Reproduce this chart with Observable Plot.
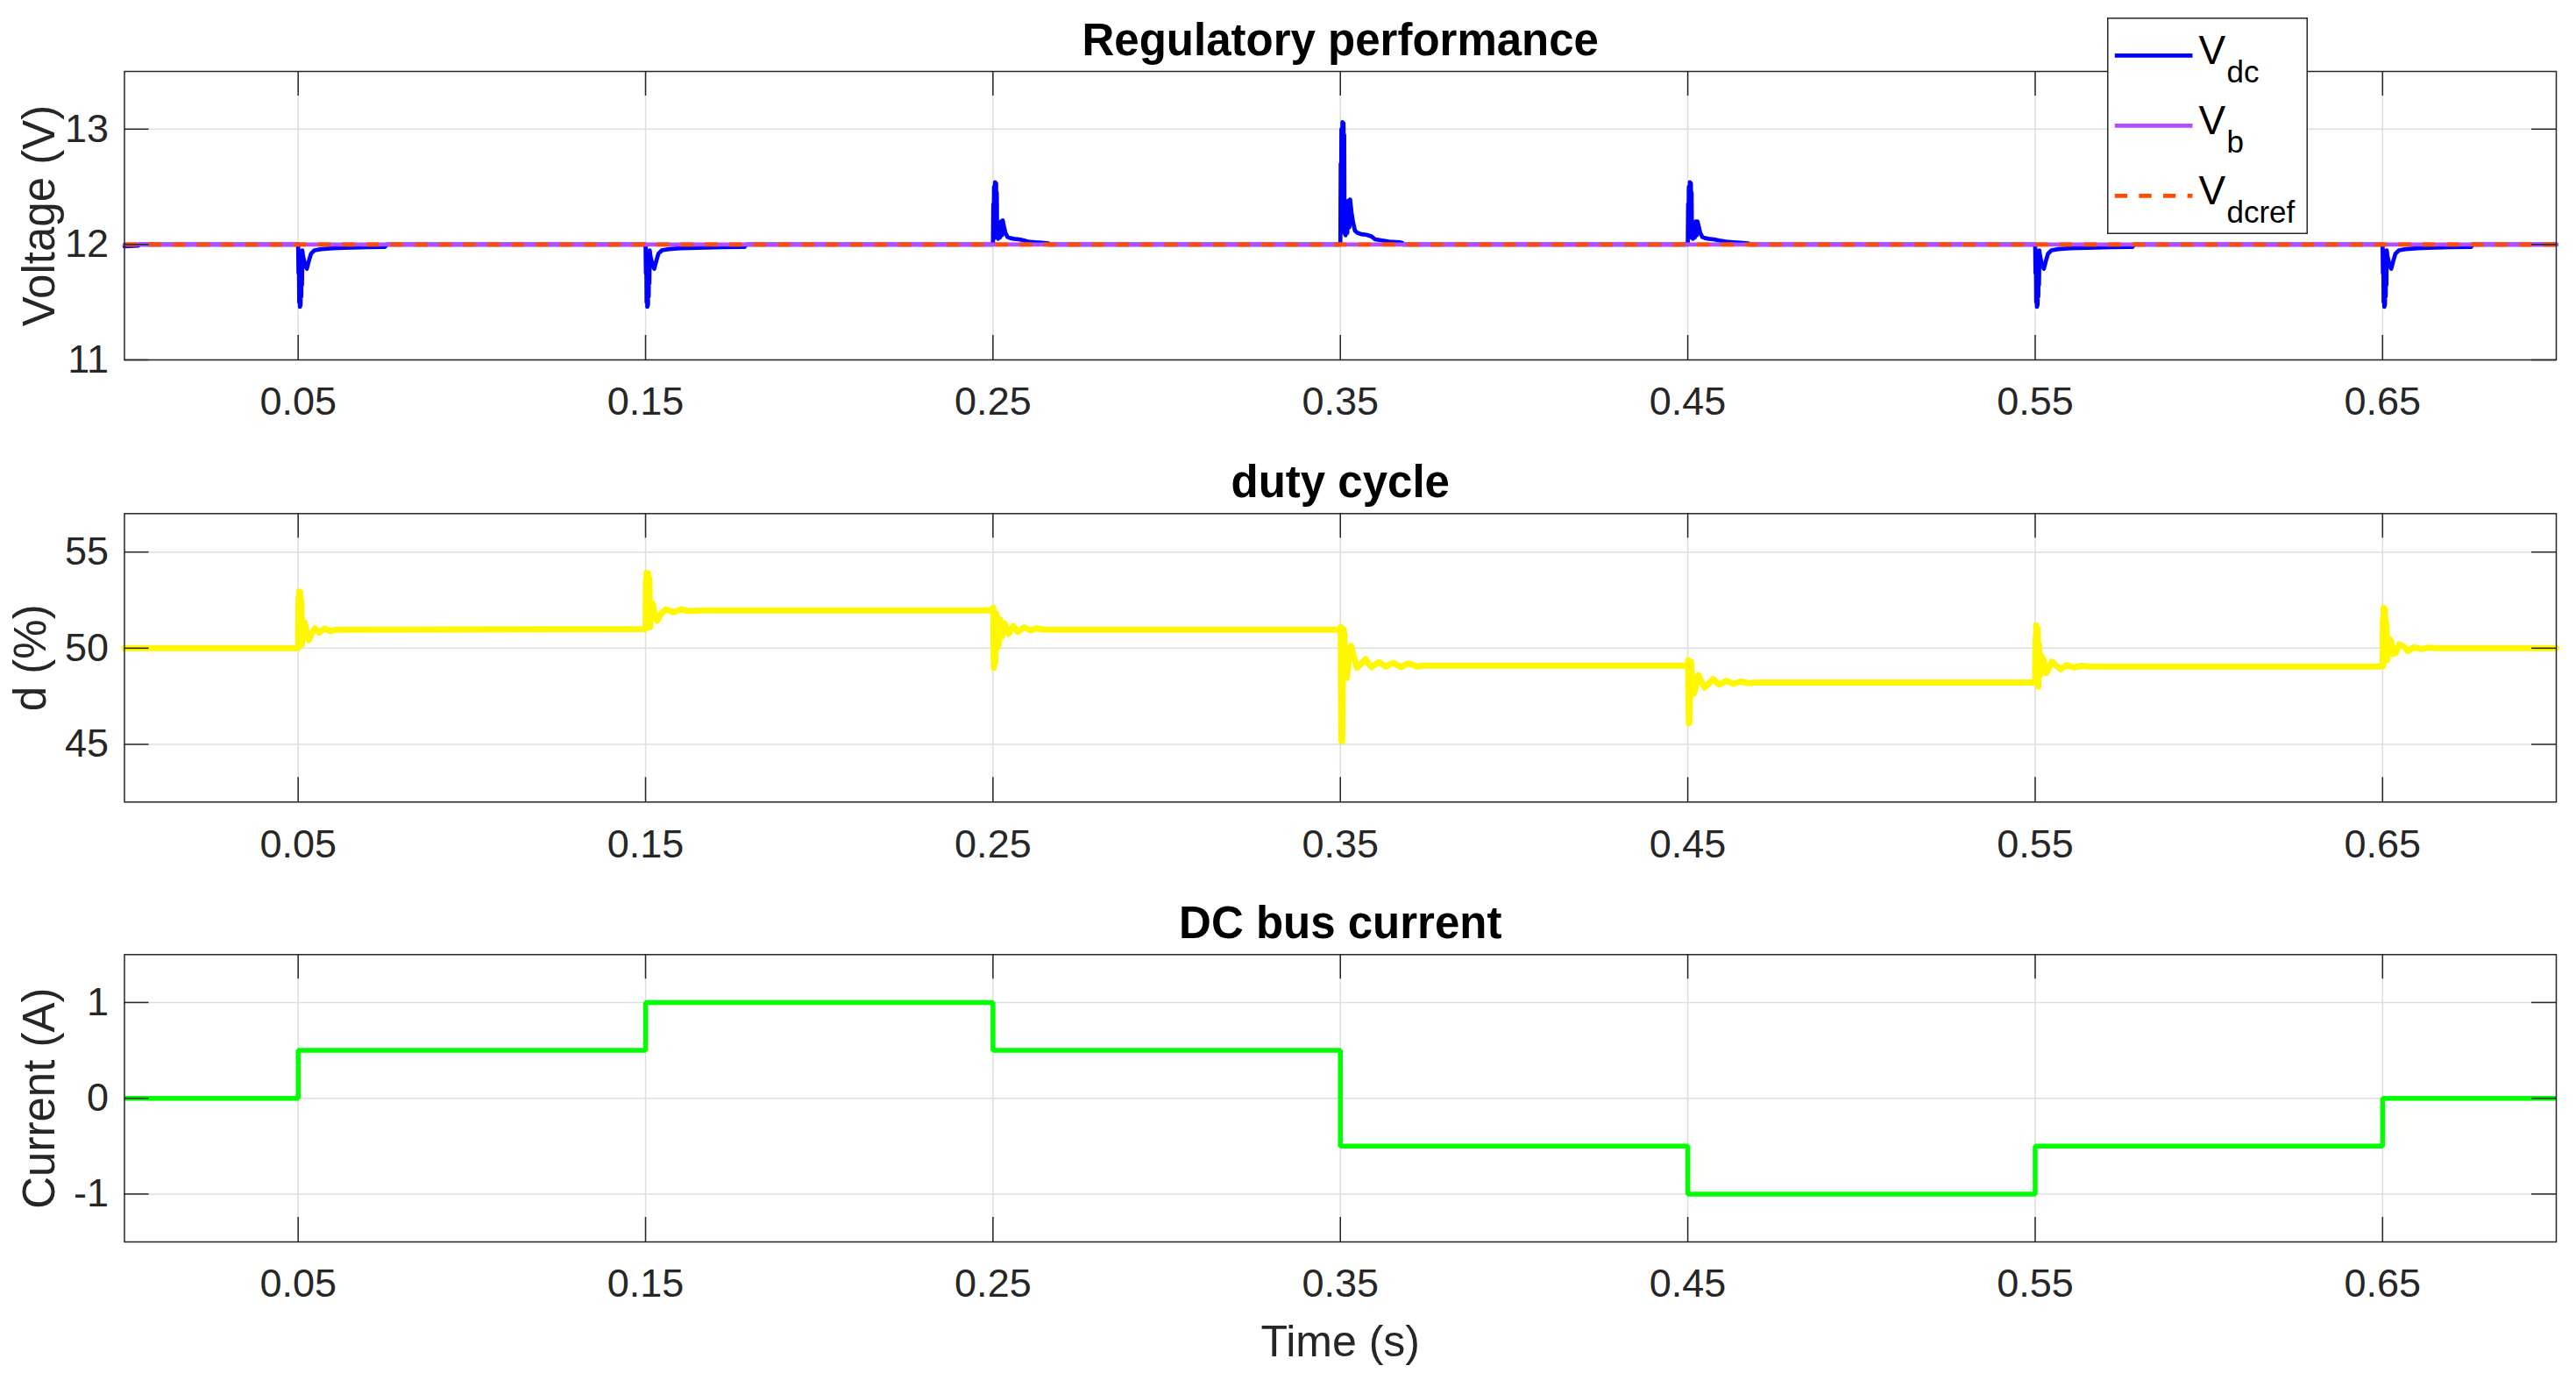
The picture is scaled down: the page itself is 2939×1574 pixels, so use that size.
<!DOCTYPE html>
<html>
<head>
<meta charset="utf-8">
<script src="https://cdn.jsdelivr.net/npm/d3@7"></script>
<script src="https://cdn.jsdelivr.net/npm/@observablehq/plot@0.6"></script>
<style>
  html, body { margin: 0; padding: 0; background: #ffffff; }
  #chart { position: relative; width: 2939px; height: 1574px; overflow: hidden; background: #fff; }
  #chart > svg, #chart > div { position: absolute; }
</style>
</head>
<body>
<div id="chart"></div>
<script>
// ---------------- data ----------------
const xTicks = [0.05, 0.15, 0.25, 0.35, 0.45, 0.55, 0.65];
const voltageTicks = [11, 12, 13];
const dutyTicks = [45, 50, 55];
const currentTicks = [-1, 0, 1];

const titles = ["Regulatory performance", "duty cycle", "DC bus current"];
const yLabels = ["Voltage (V)", "d (%)", "Current (A)"];
const xLabel = "Time (s)";

// reference signals (V_b and V_dcref)
const refTime = [0, 0.7];
const vbValue = [12, 12];
const vdcrefValue = [12, 12];

// V_dc transients, [time s, volts]
const vdcStart = [[0, 11.985], [0.0040, 11.99], [0.0042, 12.0]];
const vdcStep005 = [[0.0500, 12.0], [0.0501, 11.75], [0.0502, 11.95], [0.0503, 11.50], [0.0504, 11.90], [0.0505, 11.46], [0.0506, 11.47], [0.0507, 11.48], [0.0508, 11.85], [0.0509, 11.55], [0.0510, 11.90], [0.0511, 11.65], [0.0512, 11.95], [0.0514, 11.90], [0.0520, 11.82], [0.0525, 11.79], [0.0531, 11.86], [0.0537, 11.92], [0.0547, 11.95], [0.0567, 11.96], [0.0600, 11.968], [0.0630, 11.972], [0.0700, 11.977], [0.0750, 11.98], [0.0756, 12.0]];
const vdcStep015 = [[0.1500, 12.0], [0.1501, 11.75], [0.1502, 11.95], [0.1503, 11.50], [0.1504, 11.90], [0.1505, 11.46], [0.1506, 11.47], [0.1507, 11.48], [0.1508, 11.85], [0.1509, 11.55], [0.1510, 11.90], [0.1511, 11.66], [0.1512, 11.95], [0.1514, 11.90], [0.1520, 11.82], [0.1525, 11.79], [0.1531, 11.86], [0.1537, 11.92], [0.1547, 11.95], [0.1567, 11.96], [0.1600, 11.968], [0.1650, 11.972], [0.1720, 11.977], [0.1785, 11.98], [0.1790, 12.0]];
const vdcStep025 = [[0.2500, 12.0], [0.2501, 12.35], [0.2502, 12.05], [0.2503, 12.50], [0.2505, 12.10], [0.2506, 12.54], [0.2508, 12.20], [0.2509, 12.53], [0.2510, 12.15], [0.2511, 12.45], [0.2512, 12.06], [0.2515, 12.05], [0.2518, 12.17], [0.2520, 12.06], [0.2523, 12.20], [0.2526, 12.08], [0.2528, 12.21], [0.2532, 12.15], [0.2536, 12.10], [0.2542, 12.065], [0.2550, 12.055], [0.2560, 12.05], [0.2575, 12.045], [0.2590, 12.035], [0.2600, 12.025], [0.2620, 12.02], [0.2640, 12.015], [0.2660, 12.01], [0.2661, 12.0]];
const vdcStep035 = [[0.3500, 12.0], [0.3501, 12.70], [0.3502, 12.10], [0.3503, 13.00], [0.3505, 12.20], [0.3506, 13.06], [0.3508, 12.40], [0.3509, 13.05], [0.3510, 12.30], [0.3511, 12.95], [0.3512, 12.10], [0.3515, 12.08], [0.3518, 12.30], [0.3520, 12.10], [0.3523, 12.38], [0.3526, 12.15], [0.3528, 12.39], [0.3532, 12.28], [0.3536, 12.20], [0.3542, 12.12], [0.3550, 12.10], [0.3560, 12.09], [0.3575, 12.085], [0.3590, 12.07], [0.3600, 12.045], [0.3620, 12.035], [0.3640, 12.025], [0.3670, 12.02], [0.3678, 12.015], [0.3680, 12.0]];
const vdcStep045 = [[0.4500, 12.0], [0.4501, 12.35], [0.4502, 12.05], [0.4503, 12.50], [0.4505, 12.10], [0.4506, 12.54], [0.4508, 12.20], [0.4509, 12.53], [0.4510, 12.15], [0.4511, 12.45], [0.4512, 12.06], [0.4515, 12.05], [0.4518, 12.17], [0.4520, 12.06], [0.4523, 12.20], [0.4526, 12.08], [0.4528, 12.20], [0.4532, 12.15], [0.4536, 12.10], [0.4542, 12.065], [0.4550, 12.055], [0.4560, 12.05], [0.4575, 12.045], [0.4590, 12.035], [0.4610, 12.025], [0.4630, 12.02], [0.4650, 12.015], [0.4674, 12.01], [0.4676, 12.0]];
const vdcStep055 = [[0.5500, 12.0], [0.5501, 11.75], [0.5502, 11.95], [0.5503, 11.50], [0.5504, 11.90], [0.5505, 11.46], [0.5506, 11.47], [0.5507, 11.48], [0.5508, 11.85], [0.5509, 11.55], [0.5510, 11.90], [0.5511, 11.65], [0.5512, 11.95], [0.5514, 11.90], [0.5520, 11.82], [0.5525, 11.79], [0.5531, 11.86], [0.5537, 11.92], [0.5547, 11.95], [0.5567, 11.96], [0.5600, 11.968], [0.5650, 11.972], [0.5720, 11.977], [0.5780, 11.98], [0.5785, 12.0]];
const vdcStep065 = [[0.6500, 12.0], [0.6501, 11.75], [0.6502, 11.95], [0.6503, 11.50], [0.6504, 11.90], [0.6505, 11.46], [0.6506, 11.47], [0.6507, 11.48], [0.6508, 11.85], [0.6509, 11.55], [0.6510, 11.90], [0.6511, 11.65], [0.6512, 11.95], [0.6514, 11.90], [0.6520, 11.82], [0.6525, 11.79], [0.6531, 11.86], [0.6537, 11.92], [0.6547, 11.95], [0.6567, 11.96], [0.6600, 11.968], [0.6630, 11.972], [0.6700, 11.977], [0.6755, 11.98], [0.6760, 12.0]];
const vdcEnd = [[0.7, 12.0]];

// duty cycle, [time s, %]
const dutyStart = [[0, 50.0]];
const dutyStep005 = [[0.0500, 50.0], [0.0501, 52.6], [0.0502, 50.1], [0.0503, 52.95], [0.0505, 50.3], [0.0506, 52.9], [0.0508, 50.4], [0.0509, 52.5], [0.0511, 50.2], [0.0514, 50.9], [0.05185, 51.34], [0.0525, 50.8], [0.0531, 50.42], [0.0540, 50.8], [0.0548, 51.03], [0.0555, 50.9], [0.0561, 50.8], [0.0569, 50.95], [0.0577, 51.03], [0.0585, 50.95], [0.0594, 50.88], [0.0605, 50.95], [0.0620, 50.96]];
const dutyStep015 = [[0.1500, 51.0], [0.1501, 53.5], [0.1502, 51.1], [0.1503, 53.93], [0.1505, 51.3], [0.1507, 53.9], [0.1509, 51.5], [0.1511, 53.6], [0.1513, 51.1], [0.1516, 52.0], [0.1520, 52.33], [0.1526, 51.8], [0.1533, 51.42], [0.1545, 51.8], [0.1558, 52.02], [0.1568, 51.95], [0.1579, 51.87], [0.1592, 51.95], [0.1604, 52.02], [0.1617, 51.95], [0.1630, 51.93], [0.1663, 51.96]];
const dutyStep025 = [[0.2500, 51.96], [0.2501, 52.1], [0.2502, 49.5], [0.2503, 48.98], [0.2505, 51.5], [0.2507, 49.3], [0.2509, 51.8], [0.2511, 50.0], [0.2514, 51.6], [0.2517, 50.2], [0.2520, 51.5], [0.2526, 50.6], [0.2533, 51.3], [0.2545, 50.75], [0.2558, 51.15], [0.2572, 50.85], [0.2590, 51.08], [0.2608, 50.93], [0.2625, 51.03], [0.2645, 50.97], [0.2670, 50.96]];
const dutyStep035 = [[0.3500, 50.96], [0.3501, 51.1], [0.3502, 47.5], [0.3503, 45.2], [0.3505, 45.15], [0.3507, 48.5], [0.3509, 51.0], [0.3511, 50.8], [0.3514, 49.2], [0.35185, 48.45], [0.3524, 49.3], [0.3531, 50.12], [0.3538, 49.6], [0.3548, 48.98], [0.3560, 49.2], [0.3573, 49.43], [0.3581, 49.2], [0.3590, 49.01], [0.3600, 49.15], [0.3611, 49.28], [0.3621, 49.15], [0.3632, 49.05], [0.3642, 49.15], [0.3653, 49.24], [0.3663, 49.12], [0.3674, 49.02], [0.3685, 49.12], [0.3695, 49.21], [0.3708, 49.14], [0.3721, 49.05], [0.3737, 49.09]];
const dutyStep045 = [[0.4500, 49.09], [0.4501, 49.37], [0.4502, 47.5], [0.4503, 46.09], [0.4505, 46.2], [0.4507, 48.5], [0.4509, 49.3], [0.4511, 48.9], [0.4514, 48.0], [0.4518, 47.65], [0.4524, 48.1], [0.4531, 48.6], [0.4538, 48.3], [0.4548, 47.95], [0.4560, 48.15], [0.4573, 48.4], [0.4590, 48.1], [0.4611, 48.3], [0.4632, 48.15], [0.4653, 48.27], [0.4674, 48.18], [0.4700, 48.22]];
const dutyStep055 = [[0.5500, 48.22], [0.5501, 50.5], [0.5502, 48.3], [0.5503, 51.19], [0.5505, 48.5], [0.5507, 51.0], [0.5509, 48.0], [0.5511, 50.2], [0.5514, 48.6], [0.5518, 49.6], [0.5524, 49.4], [0.5531, 48.7], [0.5538, 48.9], [0.5548, 49.3], [0.5560, 49.1], [0.5573, 48.9], [0.5590, 49.12], [0.5611, 49.0], [0.5632, 49.08], [0.5660, 49.05]];
const dutyStep065 = [[0.6500, 49.05], [0.6501, 51.5], [0.6502, 49.1], [0.6503, 52.1], [0.6505, 49.3], [0.6507, 52.0], [0.6509, 49.5], [0.6511, 51.3], [0.6514, 49.4], [0.6518, 50.5], [0.6524, 50.4], [0.6531, 49.7], [0.6538, 49.75], [0.6548, 50.2], [0.6560, 50.1], [0.6573, 49.85], [0.6590, 50.05], [0.6611, 49.95], [0.6632, 50.03], [0.6660, 50.0]];
const dutyEnd = [[0.7, 50.0]];

// DC bus current steps
const currentTime = [0, 0.05, 0.15, 0.25, 0.35, 0.45, 0.55, 0.65, 0.7];
const currentValue = [0, 0.5, 1, 0.5, -0.5, -1, -0.5, 0, 0];

// legend
const legendMain = ["V", "V", "V"];
const legendSub = ["dc", "b", "dcref"];

// ---------------- styling ----------------
const colors = { vdc: "#0000ff", vb: "#b34dff", vref: "#ff4d00", duty: "#fff700", current: "#00ff00" };
const axisColor = "#262626";
const gridColor = "#dedede";
const fontFamily = "'Liberation Sans', Arial, Helvetica, sans-serif";
const W = 2939;
const mLeft = 141.5, mRight = 23;
const frameW = W - mLeft - mRight;
const tickLen = 28;

const toRows = (pairs) => pairs.map(([t, v]) => ({ t, v }));
const vdcRows = toRows([].concat(vdcStart, vdcStep005, vdcStep015, vdcStep025, vdcStep035, vdcStep045, vdcStep055, vdcStep065, vdcEnd));
const dutyRows = toRows([].concat(dutyStart, dutyStep005, dutyStep015, dutyStep025, dutyStep035, dutyStep045, dutyStep055, dutyStep065, dutyEnd));
const vbRows = refTime.map((t, i) => ({ t, v: vbValue[i] }));
const vrefRows = refTime.map((t, i) => ({ t, v: vdcrefValue[i] }));
const currentRows = currentTime.map((t, i) => ({ t, v: currentValue[i] }));

function panel({ top, height, marginTop, marginBottom, yDomain, yTicks, title, yLabel, yLabelDx, lines, extra = [] }) {
  const frameH = height - marginTop - marginBottom;
  const svg = Plot.plot({
    width: W, height,
    marginLeft: mLeft, marginRight: mRight, marginTop, marginBottom,
    x: { domain: [0, 0.7] },
    y: { domain: yDomain },
    style: { fontFamily, fontSize: "45px", color: axisColor, background: "transparent", overflow: "visible" },
    marks: [
      Plot.gridX(xTicks, { stroke: gridColor, strokeOpacity: 1, strokeWidth: 1.5 }),
      Plot.gridY(yTicks, { stroke: gridColor, strokeOpacity: 1, strokeWidth: 1.5 }),
      ...lines,
      Plot.ruleX(xTicks, { stroke: axisColor, strokeWidth: 1.5, insetBottom: frameH - tickLen }),
      Plot.ruleX(xTicks, { stroke: axisColor, strokeWidth: 1.5, insetTop: frameH - tickLen }),
      Plot.ruleY(yTicks, { stroke: axisColor, strokeWidth: 1.5, insetRight: frameW - tickLen }),
      Plot.ruleY(yTicks, { stroke: axisColor, strokeWidth: 1.5, insetLeft: frameW - tickLen }),
      Plot.frame({ stroke: axisColor, strokeWidth: 1.5 }),
      Plot.axisX(xTicks, { tickSize: 0, tickPadding: 31, tickFormat: (d) => String(d), fontSize: 45, fill: axisColor, label: null }),
      Plot.axisY(yTicks, { tickSize: 0, tickPadding: 18, tickFormat: (d) => String(d), fontSize: 45, fill: axisColor, label: null }),
      Plot.text([title], { text: (d) => d, frameAnchor: "top", dy: -19, lineAnchor: "bottom", fontWeight: "bold", fontSize: 51, fill: "#000000" }),
      Plot.text([yLabel], { text: (d) => d, frameAnchor: "left", textAnchor: "middle", rotate: -90, dx: yLabelDx, lineAnchor: "bottom", fontSize: 51, fill: axisColor }),
      ...extra
    ]
  });
  svg.style.top = top + "px";
  svg.style.left = "0px";
  return svg;
}

const chart = document.getElementById("chart");

chart.appendChild(panel({
  top: 0, height: 500, marginTop: 81, marginBottom: 90,
  yDomain: [11, 13.5], yTicks: voltageTicks, title: titles[0], yLabel: yLabels[0], yLabelDx: -80,
  lines: [
    Plot.line(vdcRows, { x: "t", y: "v", stroke: colors.vdc, strokeWidth: 4.7 }),
    Plot.line(vbRows, { x: "t", y: "v", stroke: colors.vb, strokeWidth: 4.7 }),
    Plot.line(vrefRows, { x: "t", y: "v", stroke: colors.vref, strokeWidth: 4.7, strokeDasharray: "14.3,13.3", strokeLinecap: "butt" })
  ]
}));

chart.appendChild(panel({
  top: 500, height: 500, marginTop: 85.3, marginBottom: 85.7,
  yDomain: [42, 57], yTicks: dutyTicks, title: titles[1], yLabel: yLabels[1], yLabelDx: -90,
  lines: [
    Plot.line(dutyRows, { x: "t", y: "v", stroke: colors.duty, strokeWidth: 7 })
  ]
}));

chart.appendChild(panel({
  top: 1000, height: 574, marginTop: 88.3, marginBottom: 158,
  yDomain: [-1.5, 1.5], yTicks: currentTicks, title: titles[2], yLabel: yLabels[2], yLabelDx: -80,
  lines: [
    Plot.line(currentRows, { x: "t", y: "v", stroke: colors.current, strokeWidth: 5.5, curve: "step-after", strokeLinejoin: "miter", strokeLinecap: "butt" })
  ],
  extra: [
    Plot.text([xLabel], { text: (d) => d, frameAnchor: "bottom", dy: 130, lineAnchor: "bottom", fontSize: 50, fill: axisColor })
  ]
}));

// ---------------- legend (overlay) ----------------
const legendColors = [colors.vdc, colors.vb, colors.vref];
const legendDash = [null, null, "14.3,13.3"];
const lg = d3.create("svg")
  .attr("width", 229).attr("height", 248)
  .style("left", "2403.5px").style("top", "20px")
  .style("position", "absolute");
lg.append("rect").attr("x", 0.75).attr("y", 0.75).attr("width", 227.5).attr("height", 245.5)
  .attr("fill", "#ffffff").attr("stroke", axisColor).attr("stroke-width", 1.5);
legendSub.forEach((sub, i) => {
  const cy = 43.3 + i * 80;
  lg.append("line").attr("x1", 8.8).attr("x2", 97.5).attr("y1", cy).attr("y2", cy)
    .attr("stroke", legendColors[i]).attr("stroke-width", 4.7)
    .attr("stroke-dasharray", legendDash[i]);
  lg.append("text").attr("x", 104.5).attr("y", cy + 10)
    .attr("font-family", fontFamily).attr("font-size", 46).attr("fill", "#000")
    .text(legendMain[i]);
  lg.append("text").attr("x", 136.5).attr("y", cy + 31)
    .attr("font-family", fontFamily).attr("font-size", 35).attr("fill", "#000")
    .text(sub);
});
chart.appendChild(lg.node());
</script>
</body>
</html>
